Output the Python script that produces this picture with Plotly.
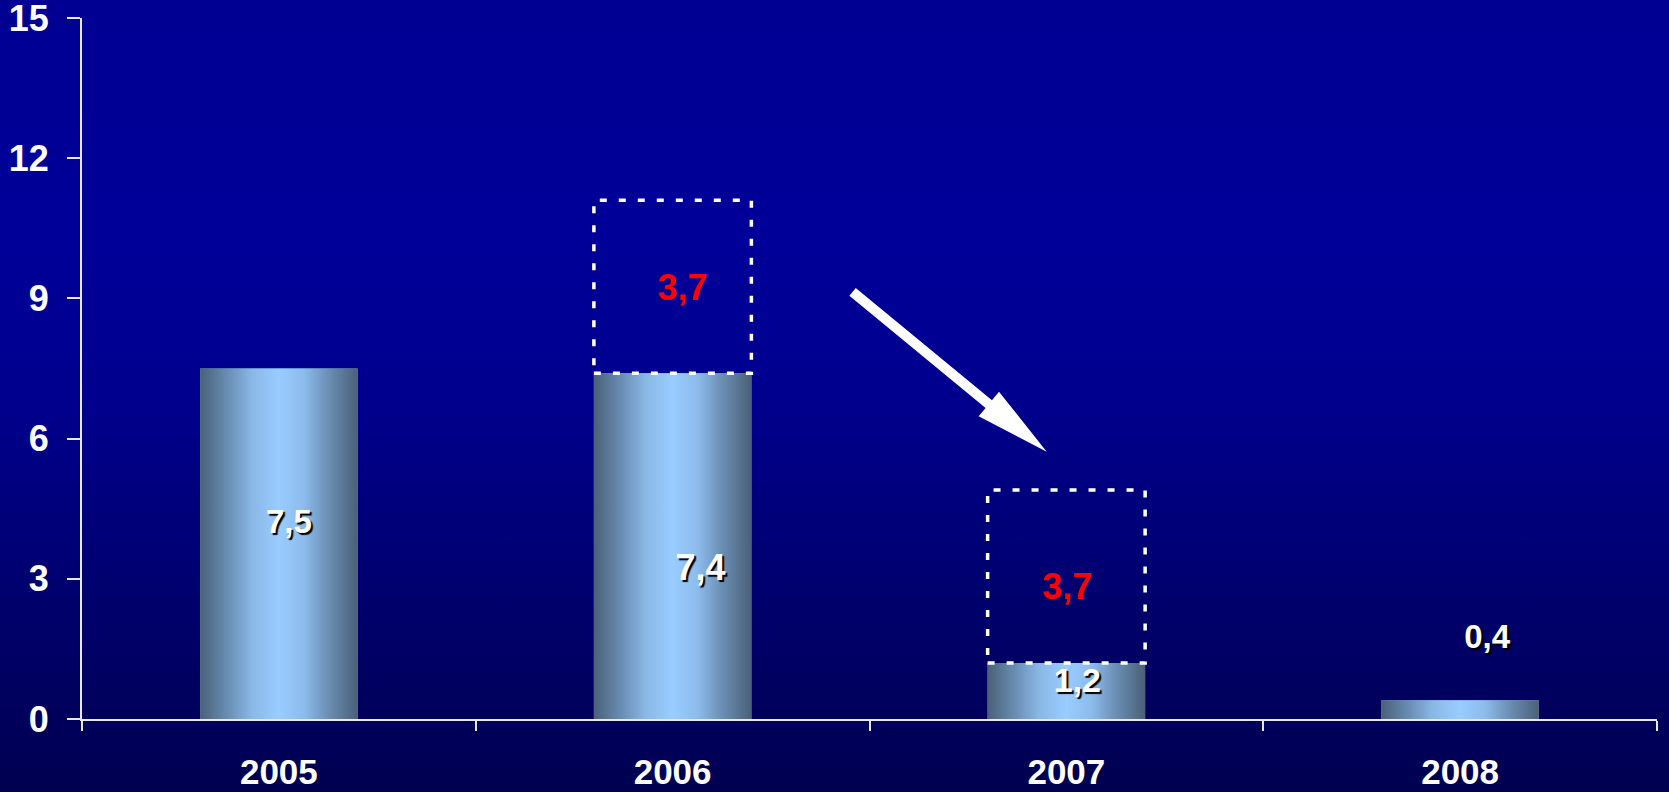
import base64
import plotly.graph_objects as go

# ---------------- data ----------------
years = ["2005", "2006", "2007", "2008"]
values = [7.5, 7.4, 1.2, 0.4]
value_labels = ["7,5", "7,4", "1,2", "0,4"]
ghost_years = ["2006", "2007"]
ghost_values = [3.7, 3.7]
ghost_labels = ["3,7", "3,7"]
y_ticks = [0, 3, 6, 9, 12, 15]

# ---------------- positions / styles ----------------
label_y = [4.15, 3.17, 0.77, 1.69]
label_dx = [10, 28, 11, 27]          # pixel offsets from bar centre
label_size = [33, 36, 34, 33]
ghost_label_y = [9.15, 2.77]
ghost_label_dx = [10, 1]
arrow_from = (1.457, 9.14)   # (category index, value)
arrow_to = (1.950, 5.72)
BAR_W = 0.40

W, H = 1669, 792
ML, MR, MT, MB = 82, 12, 18, 73
PW, PH = W - ML - MR, H - MT - MB
Y_MAX = 15
FONT = "Liberation Sans, Arial, sans-serif"
AXIS_COL = "#e8e8f4"
CAT_PX = PW / len(years)

BAR_SCALE = [
    [0.0, "#4a6078"], [0.18, "#6a8fb5"], [0.33, "#8ab8e6"],
    [0.5, "#99ccff"], [0.66, "#8cbbeb"], [0.82, "#6a8db2"], [1.0, "#4a6078"],
]

fig = go.Figure()

# base bars (semantic)
fig.add_trace(go.Bar(
    x=years, y=values, width=BAR_W,
    marker=dict(color="#8ab8e6", line=dict(width=0)),
    hoverinfo="x+y", showlegend=False,
))

# gradient overlays for the bars
for i, v in enumerate(values):
    x0, x1 = i - BAR_W / 2, i + BAR_W / 2
    fig.add_trace(go.Scatter(
        x=[x0, x1, x1, x0, x0], y=[0, 0, v, v, 0],
        xaxis="x2", yaxis="y", mode="lines",
        line=dict(width=0, color="rgba(0,0,0,0)"),
        fill="toself",
        fillgradient=dict(type="horizontal", colorscale=BAR_SCALE),
        hoverinfo="skip", showlegend=False,
    ))

shapes = []
# dotted ghost boxes stacked on the bars
for gy, gv in zip(ghost_years, ghost_values):
    i = years.index(gy)
    base = values[i]
    shapes.append(dict(
        type="rect", xref="x2", yref="y",
        x0=i - BAR_W / 2, x1=i + BAR_W / 2, y0=base, y1=base + gv,
        line=dict(color="white", width=3.5, dash="7px,12px"),
        fillcolor="rgba(0,0,0,0)", layer="above",
    ))

# arrow polygon (computed in pixel space from data positions)
def to_px(xi, yv):
    return ML + (xi + 0.5) / len(years) * PW, MT + (Y_MAX - yv) / Y_MAX * PH

tx, ty = to_px(*arrow_from)
hx, hy = to_px(*arrow_to)
dx, dy = hx - tx, hy - ty
L = (dx ** 2 + dy ** 2) ** 0.5
ux, uy = dx / L, dy / L
nx, ny = -uy, ux
shaft_hw, head_hw, head_len = 5.0, 16.0, 75.0
bx, by = hx - ux * head_len, hy - uy * head_len
pts = [
    (tx + nx * shaft_hw, ty + ny * shaft_hw),
    (bx + nx * shaft_hw, by + ny * shaft_hw),
    (bx + nx * head_hw, by + ny * head_hw),
    (hx, hy),
    (bx - nx * head_hw, by - ny * head_hw),
    (bx - nx * shaft_hw, by - ny * shaft_hw),
    (tx - nx * shaft_hw, ty - ny * shaft_hw),
]
def to_paper(px, py):
    return (px - ML) / PW, 1 - (py - MT) / PH
path = "M " + " L ".join(f"{to_paper(*p)[0]:.5f},{to_paper(*p)[1]:.5f}" for p in pts) + " Z"
shapes.append(dict(type="path", xref="paper", yref="paper", path=path,
                   fillcolor="white", line=dict(width=0), layer="above"))

# value labels (white with drop shadow)
fig.add_trace(go.Scatter(
    x=[i + d / CAT_PX for i, d in enumerate(label_dx)], y=label_y,
    xaxis="x2", yaxis="y", mode="text", text=value_labels,
    textposition="middle center",
    textfont=dict(family=FONT, size=label_size, color="white", weight=700,
                  shadow="2px 2px 1px #000000"),
    hoverinfo="skip", showlegend=False,
))
# ghost labels (red)
fig.add_trace(go.Scatter(
    x=[years.index(g) + d / CAT_PX for g, d in zip(ghost_years, ghost_label_dx)],
    y=ghost_label_y,
    xaxis="x2", yaxis="y", mode="text", text=ghost_labels,
    textposition="middle center",
    textfont=dict(family=FONT, size=36, color="#ff0000", weight=700),
    hoverinfo="skip", showlegend=False,
))

# background gradient image
svg = (
    f'<svg xmlns="http://www.w3.org/2000/svg" width="{W}" height="{H}" '
    f'viewBox="0 0 {W} {H}" preserveAspectRatio="none">'
    '<defs><linearGradient id="g" x1="0" y1="0" x2="0" y2="1">'
    '<stop offset="0" stop-color="#000092"/>'
    '<stop offset="0.3" stop-color="#000099"/>'
    '<stop offset="0.5" stop-color="#00008e"/>'
    '<stop offset="0.75" stop-color="#00006e"/>'
    '<stop offset="1" stop-color="#000050"/>'
    '</linearGradient></defs>'
    f'<rect x="0" y="0" width="{W}" height="{H}" fill="url(#g)"/></svg>'
)
src = "data:image/svg+xml;base64," + base64.b64encode(svg.encode()).decode()

fig.update_layout(
    width=W, height=H,
    margin=dict(l=ML, r=MR, t=MT, b=MB, pad=0, autoexpand=False),
    paper_bgcolor="#000080",
    plot_bgcolor="rgba(0,0,0,0)",
    showlegend=False,
    bargap=0.6,
    shapes=shapes,
    images=[dict(
        source=src, xref="paper", yref="paper",
        x=-ML / PW, y=1 + MT / PH, sizex=W / PW, sizey=H / PH,
        xanchor="left", yanchor="top", sizing="stretch", layer="below",
    )],
    xaxis=dict(
        type="category", categoryorder="array", categoryarray=years,
        range=[-0.5, len(years) - 0.5], automargin=False,
        showgrid=False, zeroline=False,
        showline=True, linecolor=AXIS_COL, linewidth=2,
        ticks="outside", tickson="boundaries", ticklen=10, tickwidth=2,
        tickcolor=AXIS_COL,
        tickfont=dict(family=FONT, size=35, color="white", weight=700),
        ticklabelstandoff=21, ticklabeloverflow="allow",
    ),
    xaxis2=dict(
        overlaying="x", range=[-0.5, len(years) - 0.5], visible=False,
        showgrid=False, zeroline=False,
    ),
    yaxis=dict(
        range=[0, Y_MAX], tickvals=y_ticks, automargin=False,
        showgrid=False, zeroline=False,
        showline=True, linecolor=AXIS_COL, linewidth=2,
        ticks="outside", ticklen=13, tickwidth=2, tickcolor=AXIS_COL,
        tickfont=dict(family=FONT, size=36, color="white", weight=700),
        ticklabelstandoff=11, ticklabeloverflow="allow",
    ),
)

fig.write_html(
    "out.html",
    config={"displayModeBar": False},
    post_script="document.body.style.margin='0px';document.body.style.overflow='hidden';",
)
